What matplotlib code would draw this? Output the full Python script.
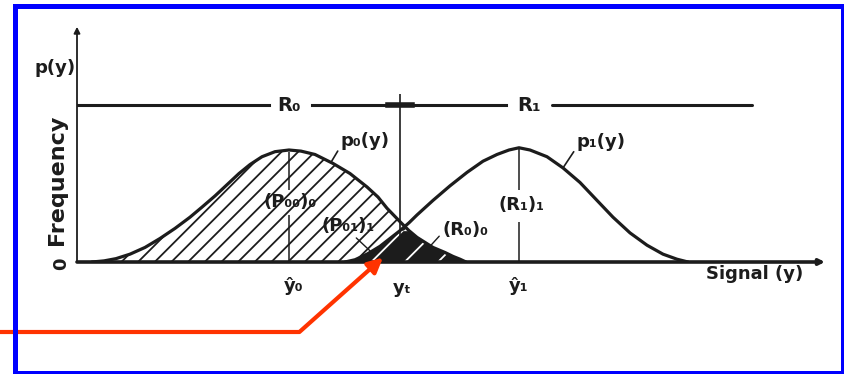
import matplotlib
matplotlib.use("Agg")
import matplotlib.pyplot as plt
from matplotlib.patches import Rectangle
import numpy as np

plt.rcParams["font.family"] = ["DejaVu Sans"]
plt.rcParams["hatch.linewidth"] = 1.3

# signal axis runs 0..74.8, frequency axis 0..2.1 (peak of p0 = 1)
p0_x = [1.5, 2.7, 3.9, 5.3, 6.8, 8.3, 9.8, 11.3, 12.5, 13.8, 15.0, 16.2, 17.3, 18.5, 19.8, 21.2,
        22.4, 23.8, 25.6, 27.3, 29.0, 30.1, 31.0, 32.3, 33.2, 34.0, 35.6, 36.8, 37.6, 38.3, 38.9]
p0_y = [0.00, 0.01, 0.03, 0.07, 0.13, 0.21, 0.30, 0.40, 0.49, 0.59, 0.69, 0.79, 0.87, 0.94, 0.985, 1.00,
        0.99, 0.96, 0.88, 0.79, 0.67, 0.58, 0.48, 0.36, 0.28, 0.22, 0.13, 0.085, 0.05, 0.025, 0.00]

p1_x = [26.8, 27.8, 29.0, 30.3, 31.3, 32.3, 33.2, 34.0, 35.6, 37.3, 39.0, 40.6, 42.0, 43.2, 44.2,
        45.3, 47.0, 48.6, 50.3, 52.0, 53.6, 55.3, 57.0, 58.6, 60.0, 61.1]
p1_y = [0.00, 0.02, 0.07, 0.14, 0.21, 0.28, 0.35, 0.42, 0.55, 0.68, 0.80, 0.90, 0.96, 1.00, 1.02,
        1.00, 0.94, 0.84, 0.71, 0.55, 0.40, 0.26, 0.15, 0.07, 0.025, 0.00]

y0_hat = 21.2      # mean of p0
y1_hat = 44.2      # mean of p1
y_t = 32.3         # decision threshold
region_level = 1.40
region_line_end = 67.5
axis_x_end = 74.8
axis_y_end = 2.1

INK = "#1c1c1c"
RED = "#ff3300"
BLUE = "#0000ff"

fig = plt.figure(figsize=(8.44, 3.74), dpi=100)
ax = fig.add_axes([77 / 844, 112 / 374, 748 / 844, 235.2 / 374])
ax.set_xlim(0, axis_x_end)
ax.set_ylim(0, axis_y_end)
ax.axis("off")

# axes drawn as arrows
ax.annotate("", xy=(0, axis_y_end), xytext=(0, 0),
            arrowprops=dict(arrowstyle="-|>", color=INK, lw=1.3, mutation_scale=9,
                            shrinkA=0, shrinkB=0), annotation_clip=False)
ax.annotate("", xy=(axis_x_end, 0), xytext=(0, 0),
            arrowprops=dict(arrowstyle="-|>", color=INK, lw=2.6, mutation_scale=8,
                            shrinkA=0, shrinkB=0), annotation_clip=False)

# p0 hatched, overlap shaded dark
ax.fill_between(p0_x, p0_y, 0, facecolor="none", edgecolor=INK, hatch="//", linewidth=0)
xo = np.union1d([x for x in p0_x if x >= p1_x[0]], [x for x in p1_x if x <= p0_x[-1]])
yo = np.minimum(np.interp(xo, p0_x, p0_y), np.interp(xo, p1_x, p1_y))
ax.fill_between(xo, yo, 0, color=INK, linewidth=0)
ax.fill_between(xo, yo, 0, facecolor="none", edgecolor="white", hatch="/", linewidth=0)

ax.plot(p0_x, p0_y, color=INK, lw=2.3, solid_capstyle="round", solid_joinstyle="round")
ax.plot(p1_x, p1_y, color=INK, lw=2.3, solid_capstyle="round", solid_joinstyle="round")

# region bar R0 | R1 with gaps for the labels
ax.plot([0, 19.2], [region_level] * 2, color=INK, lw=2.2)
ax.plot([23.5, 42.9], [region_level] * 2, color=INK, lw=2.2)
ax.plot([47.5, region_line_end], [region_level] * 2, color=INK, lw=2.2, solid_capstyle="round")
ax.plot([y_t - 1.2, y_t + 1.2], [region_level] * 2, color=INK, lw=4.0)

lab = dict(color=INK, fontsize=13, ha="center", va="center", fontweight="bold")
ax.text(21.2, region_level, "R₀", **dict(lab, fontsize=14))
ax.text(45.2, region_level, "R₁", **dict(lab, fontsize=14))

# threshold and mean markers
ax.vlines(y_t, 0, 1.5, color=INK, lw=1.2)
ax.vlines([y0_hat, y0_hat], [0.0, 0.64], [0.42, 0.98], color=INK, lw=1.1)
ax.vlines([y1_hat, y1_hat], [0.0, 0.64], [0.36, 1.01], color=INK, lw=1.1)

# labels
ax.text(21.3, 0.54, "(P₀₀)₀", **lab)
ax.text(44.4, 0.51, "(R₁)₁", **lab)
ax.annotate("p₀(y)", xy=(25.4, 0.89), xytext=(28.8, 1.08), textcoords="data",
            arrowprops=dict(arrowstyle="-", color=INK, lw=1.2, relpos=(0.0, 0.2),
                            shrinkA=0, shrinkB=0), **lab)
ax.annotate("p₁(y)", xy=(48.6, 0.84), xytext=(52.4, 1.07), textcoords="data",
            arrowprops=dict(arrowstyle="-", color=INK, lw=1.2, relpos=(0.0, 0.2),
                            shrinkA=0, shrinkB=0), **lab)
ax.annotate("(P₀₁)₁", xy=(29.3, 0.10), xytext=(27.1, 0.32), textcoords="data",
            arrowprops=dict(arrowstyle="-", color=INK, lw=1.0, relpos=(0.6, 0.0),
                            shrinkA=0, shrinkB=0), **lab)
ax.annotate("(R₀)₀", xy=(35.3, 0.14), xytext=(38.8, 0.29), textcoords="data",
            arrowprops=dict(arrowstyle="-", color=INK, lw=1.0, relpos=(0.0, 0.3),
                            shrinkA=0, shrinkB=0), **lab)

ax.text(y0_hat + 0.5, -0.21, "ŷ₀", **lab)
ax.text(y_t + 0.2, -0.23, "yₜ", **lab)
ax.text(y1_hat, -0.21, "ŷ₁", **lab)
ax.text(67.8, -0.11, "Signal (y)", **lab)
ax.text(-2.2, 1.73, "p(y)", **lab)
ax.text(-2.0, 0.73, "Frequency", rotation=90, **dict(lab, fontsize=16))
ax.text(-1.6, -0.02, "0", rotation=90, **lab)

# red pointer to the error region
ax.annotate("", xy=(30.6, 0.04), xytext=(0, 42), textcoords="figure pixels",
            arrowprops=dict(arrowstyle="-|>", color=RED, lw=3.0, mutation_scale=22,
                            connectionstyle="angle,angleA=0,angleB=41.7,rad=0",
                            shrinkA=0, shrinkB=0),
            annotation_clip=False)

# outer frame
fig.patches.append(Rectangle((14.5 / 844, 1.5 / 374), 828.5 / 844, 367 / 374,
                             transform=fig.transFigure, fill=False,
                             edgecolor=BLUE, linewidth=3.6))

fig.savefig("out.png", dpi=100, facecolor="white")
